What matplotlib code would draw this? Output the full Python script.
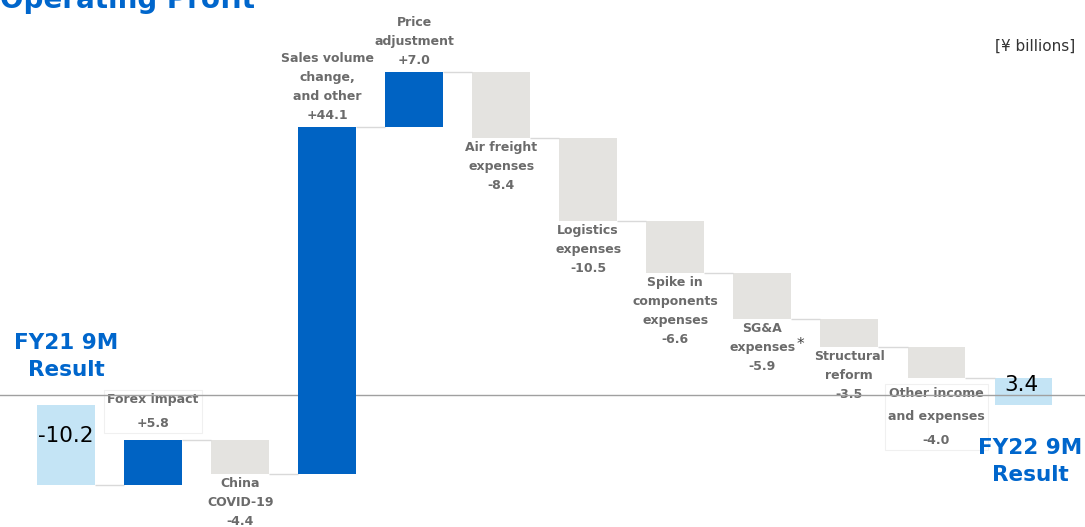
"""Operating profit bridge FY21 9M -> FY22 9M (waterfall)."""
import numpy as np
import matplotlib.pyplot as plt
import matplotlib as mpl

mpl.rcParams['font.family'] = 'DejaVu Sans'

# data
labels = ['FY21 9M\nResult', 'Forex impact', 'China\nCOVID-19', 'Sales volume\nchange,\nand other',
          'Price\nadjustment', 'Air freight\nexpenses', 'Logistics\nexpenses',
          'Spike in\ncomponents\nexpenses', 'SG&A\nexpenses', 'Structural\nreform',
          'Other income\nand expenses', 'FY22 9M\nResult']
start_value = -10.2
deltas = [5.8, -4.4, 44.1, 7.0, -8.4, -10.5, -6.6, -5.9, -3.5, -4.0]
end_value = 3.4

BLUE = '#0063C3'
LIGHT = '#C4E4F5'
GREY = '#E4E3E0'
TXT = '#6B6B6B'
TITLE_BLUE = '#0066CC'

fig = plt.figure(figsize=(10.85, 5.27), dpi=100)
ax = fig.add_axes([0, 0, 1, 1])
ax.set_xlim(-0.76, 11.71)
ax.set_ylim(-15.5, 51.5)
ax.axis('off')

w = 0.66
n = len(labels)
x = np.arange(n)

# build bottoms/heights
bottoms, heights, colors = [0], [start_value], [LIGHT]
level = start_value
for d in deltas:
    bottoms.append(level); heights.append(d)
    colors.append(BLUE if d > 0 else GREY)
    level += d
bottoms.append(0); heights.append(end_value); colors.append(LIGHT)

for i in range(n):
    z = 2 if colors[i] == BLUE else 1
    ax.bar(x[i], heights[i], w, bottom=bottoms[i], color=colors[i], zorder=z, linewidth=0)

# connectors
ends = [b + h for b, h in zip(bottoms, heights)]
for i in range(n - 1):
    ax.hlines(ends[i], x[i] + w / 2, x[i + 1] - w / 2, color='#D9D9D9', lw=1.0, zorder=1)

# reference line (sits slightly above zero in the original)
ax.axhline(1.27, color='#A0A0A0', lw=1.0, zorder=1.5)

# step labels
for i, d in enumerate(deltas, start=1):
    txt = labels[i] + '\n' + (f'+{d:.1f}' if d > 0 else f'{d:.1f}')
    boxed = i in (1, 10)
    ls = 2.05 if boxed else 1.6
    bbox = dict(boxstyle='square,pad=0.25', fc='white', ec='#F0F0F0', lw=0.8) if boxed else None
    if d > 0:
        top = bottoms[i] + d
        off = 7 if boxed else 4
        ax.annotate(txt, xy=(x[i], top), xytext=(0, off), textcoords='offset points',
                    ha='center', va='bottom', fontsize=9, fontweight='bold', color=TXT,
                    linespacing=ls, bbox=bbox, zorder=1)
    else:
        bot = bottoms[i] + d
        off = -6 if boxed else -2
        ax.annotate(txt, xy=(x[i], bot), xytext=(0, off), textcoords='offset points',
                    ha='center', va='top', fontsize=9, fontweight='bold', color=TXT,
                    linespacing=ls, bbox=bbox, zorder=1)

# SG&A footnote mark
ax.annotate('*', xy=(x[8], bottoms[8] + deltas[7]), xytext=(25, -13), textcoords='offset points',
            ha='left', va='top', fontsize=11, color='#444444')

# totals
ax.text(x[0], -3.9, f'{start_value:.1f}', ha='center', va='center', fontsize=15.5, color='black')
ax.text(x[-1] - 0.02, end_value / 2 + 0.9, f'{end_value:.1f}', ha='center', va='center',
        fontsize=15.5, color='black')
ax.annotate(labels[0], xy=(x[0], 1.27), xytext=(0, 11), textcoords='offset points',
            ha='center', va='bottom', fontsize=15.5, fontweight='bold', color=TITLE_BLUE,
            linespacing=1.4)
ax.annotate(labels[-1], xy=(x[-1] + 0.08, 0), xytext=(0, -24), textcoords='offset points',
            ha='center', va='top', fontsize=15.5, fontweight='bold', color=TITLE_BLUE,
            linespacing=1.4)

fig.text(0.0, 1.027, 'Operating Profit', ha='left', va='top', fontsize=20,
         fontweight='bold', color=TITLE_BLUE)
fig.text(0.991, 0.913, '[¥ billions]', ha='right', va='center', fontsize=11, color='#333333')

fig.savefig('out.png', dpi=100)
